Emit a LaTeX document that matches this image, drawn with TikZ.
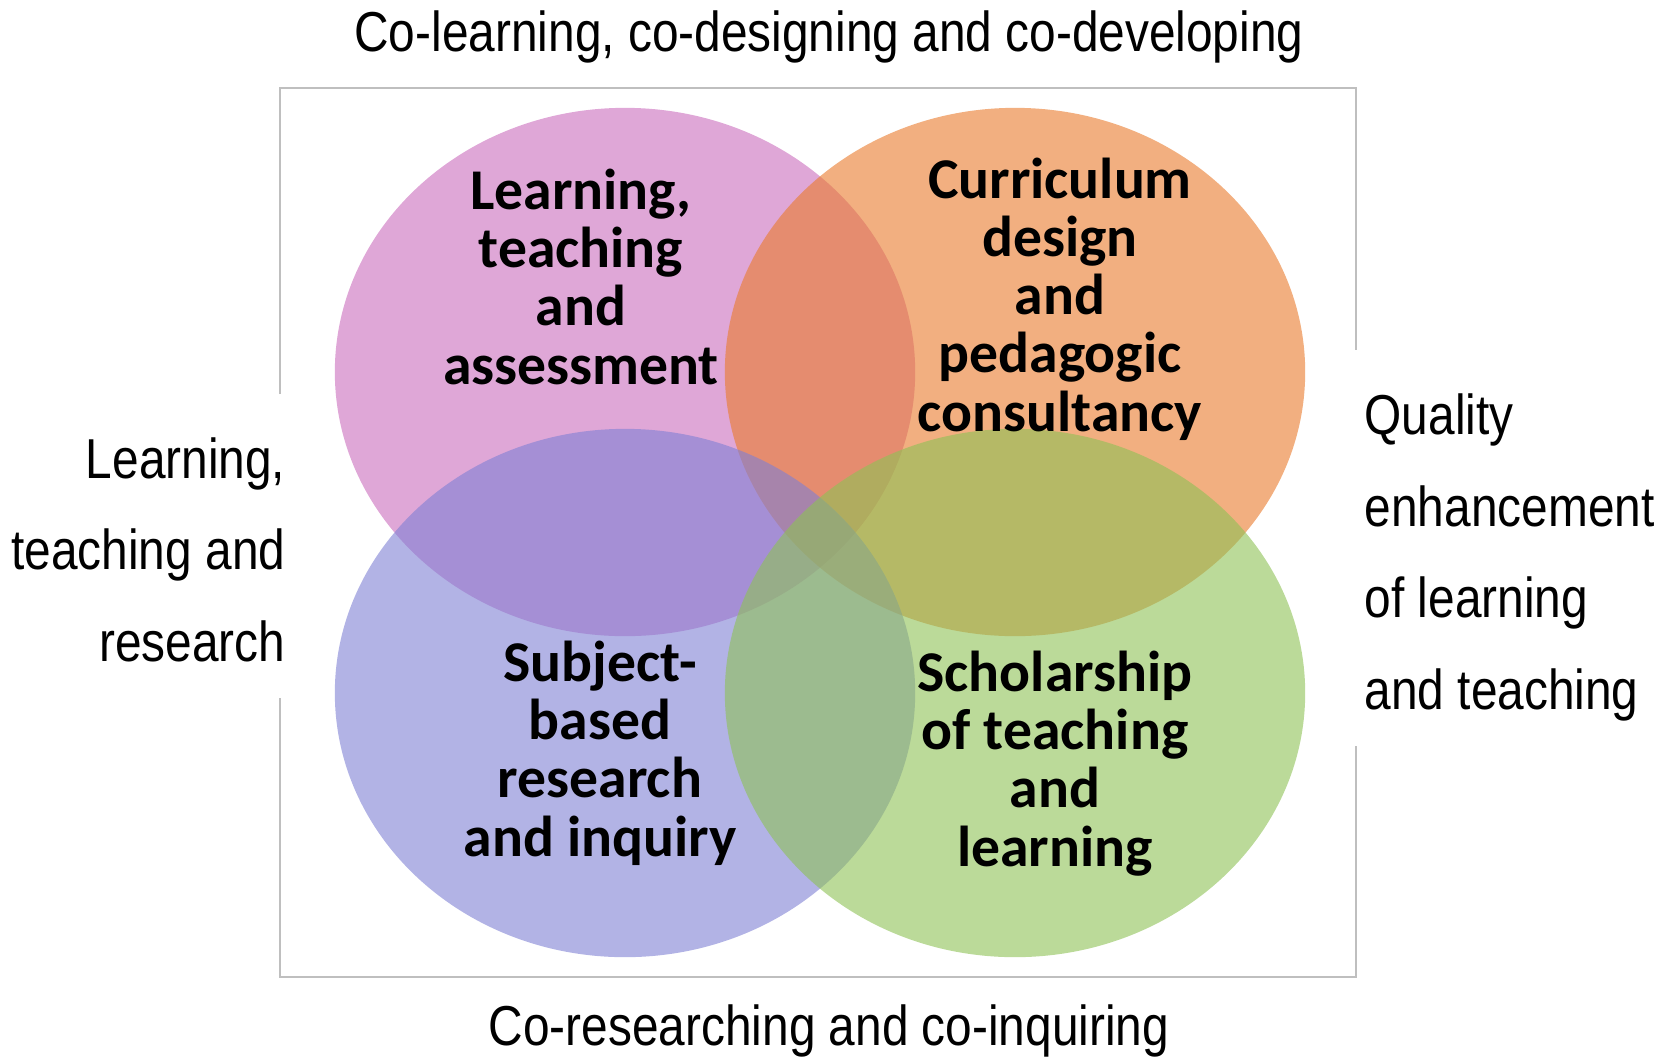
\documentclass[tikz,border=0pt]{standalone}
\usepackage{fontspec}
\setmainfont{Liberation Sans}
\newfontfamily\narrowfont[FakeStretch=0.85]{Liberation Sans}
\newfontfamily\labelfont{Carlito}
\usetikzlibrary{positioning}

\definecolor{lilac}{HTML}{CA6CBC}
\definecolor{apricot}{HTML}{E97A2B}
\definecolor{periwinkle}{HTML}{7F80D4}
\definecolor{leaf}{HTML}{8EC155}
\definecolor{framegray}{HTML}{BFBFBF}

\tikzset{
  venn/.style={fill opacity=0.6},
  blobtext/.style={font=\labelfont\bfseries\fontsize{16.4}{16.5}\selectfont, align=center, anchor=base, inner sep=0pt},
  sidetext/.style={font=\narrowfont\fontsize{16}{26}\selectfont, inner sep=0pt},
  framestyle/.style={framegray, line width=0.6pt},
}

\begin{document}
\begin{tikzpicture}[x=0.01cm,y=-0.01cm]
  \useasboundingbox (0,0) rectangle (1671,1057);
  \pgfmathsetmacro {\xl}{625}   %left column centre
  \pgfmathsetmacro {\xr}{1015}  %right column centre
  \pgfmathsetmacro {\yt}{372}   %top row centre
  \pgfmathsetmacro {\yb}{693}   %bottom row centre

  %Frame, broken where the side texts sit
  \draw[framestyle] (280,394) -- (280,88) -- (1356,88) -- (1356,350) ;
  \draw[framestyle] (1356,746) -- (1356,977) -- (280,977) -- (280,698) ;

  %Four ellipses
  \fill[lilac,venn] (\xl,\yt) ellipse [x radius=2.90cm, y radius=2.64cm] ; %Learning
  \fill[apricot,venn] (\xr,\yt) ellipse [x radius=2.90cm, y radius=2.64cm] ; %Curriculum
  \fill[periwinkle,venn] (\xl,\yb) ellipse [x radius=2.90cm, y radius=2.64cm] ; %Subject
  \fill[leaf,venn] (\xr,\yb) ellipse [x radius=2.90cm, y radius=2.64cm] ; %Scholarship

  %Labels in the ellipses (anchored at the last line)
  \node[blobtext] (lta) at (581,384) {Learning,\\teaching\\and\\assessment};
  \node[blobtext] (cdp) at (1060,431) {Curriculum\\design\\and\\pedagogic\\consultancy};
  \node[blobtext] (sbr) at (600,856) {Subject-\\based\\research\\and inquiry};
  \node[blobtext] (stl) at (1055,866) {Scholarship\\of teaching\\and\\learning};

  %Texts round the frame
  \node[sidetext, anchor=base] (top) at (829,51) {Co-learning, co-designing and co-developing};
  \node[sidetext, anchor=base] (bottom) at (829,1045) {Co-researching and co-inquiring};
  \node[sidetext, anchor=base east, align=right] (left) at (286,661) {Learning,\\teaching and\\research};
  \node[sidetext, anchor=base west, align=left] (right) at (1364,709) {Quality\\enhancement\\of learning\\and teaching};
\end{tikzpicture}
\end{document}
